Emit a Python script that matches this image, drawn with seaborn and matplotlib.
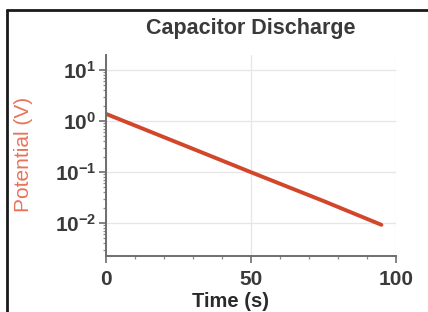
import matplotlib
matplotlib.use('Agg')
import matplotlib.pyplot as plt
import matplotlib.ticker as mticker
from matplotlib.lines import Line2D
import numpy as np
import pandas as pd
import seaborn as sns

# values
time_s = [0, 25, 50, 75, 95]
potential_v = [1.38, 0.37, 0.099, 0.027, 0.0092]
x_ticks = [0, 50, 100]

sns.set_style('white')
plt.rcParams['font.family'] = ['Liberation Sans', 'DejaVu Sans']

data = pd.DataFrame({'time': time_s, 'potential': potential_v})

fig = plt.figure(figsize=(4.28, 3.12), dpi=100)
ax = fig.add_axes([0.2477, 0.1795, 0.6773, 0.6442])

sns.lineplot(data=data, x='time', y='potential', ax=ax,
             color='#d2462a', linewidth=2.8, solid_capstyle='round')

ax.set_yscale('log')
ax.set_xlim(0, 100)
ax.set_ylim(0.00225, 19.7)
ax.set_xticks(x_ticks)
ax.xaxis.set_minor_locator(mticker.MultipleLocator(10))
ax.yaxis.set_major_locator(mticker.LogLocator(base=10, numticks=10))
ax.yaxis.set_minor_locator(mticker.LogLocator(base=10, subs=np.arange(2, 10), numticks=10))

ax.grid(True, which='major', color='#e6e6e6', linewidth=0.9)
for side in ['top', 'right']:
    ax.spines[side].set_visible(False)
for side in ['left', 'bottom']:
    ax.spines[side].set_color('#6e6e6e')
    ax.spines[side].set_linewidth(1.4)

ax.tick_params(which='major', direction='out', length=5, width=1.2,
               color='#6e6e6e', labelsize=15, labelcolor='#3a3a3a',
               left=True, bottom=True)
ax.tick_params(axis='x', which='major', pad=5)
ax.tick_params(axis='y', which='major', pad=2)
ax.tick_params(which='minor', direction='out', length=2.5, width=0.9,
               color='#8a8a8a', left=True, bottom=True)
for lbl in ax.get_xticklabels() + ax.get_yticklabels():
    lbl.set_fontweight('bold')

ax.set_title('Capacitor Discharge', fontsize=15.5, fontweight='bold',
             color='#3a3a3a', pad=15)
ax.set_xlabel('Time (s)', fontsize=14.5, fontweight='bold', color='#2a2a2a')
ax.set_ylabel('Potential (V)', fontsize=15, color='#e8735a')
ax.xaxis.set_label_coords(0.428, -0.179)
ax.yaxis.set_label_coords(-0.283, 0.505)
ax.yaxis.label.set_verticalalignment('center')

# frame of the picture: left and top edges
fig.add_artist(Line2D([0.017, 0.017], [0, 0.968], transform=fig.transFigure,
                      color='#1a1a1a', linewidth=2))
fig.add_artist(Line2D([0.017, 1], [0.968, 0.968], transform=fig.transFigure,
                      color='#1a1a1a', linewidth=2))

fig.savefig('out.png', dpi=100)
